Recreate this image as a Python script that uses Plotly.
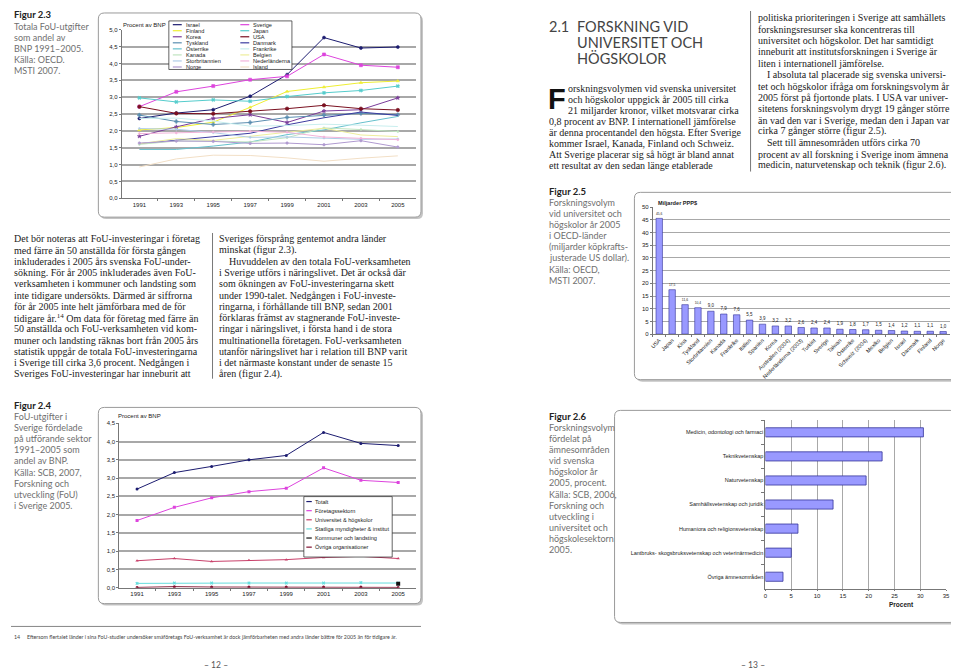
import plotly.graph_objects as go

W, H = 959, 669
def px(x): return x / W
def py(y): return 1 - y / H

# ---------------- Data: Figur 2.3 ----------------
years = ['1991', '1993', '1995', '1997', '1999', '2001', '2003', '2005']
israel = [2.37, 2.53, 2.63, 3.03, 3.67, 4.77, 4.46, 4.49]
sverige = [2.72, 3.16, 3.33, 3.52, 3.62, 4.27, 3.95, 3.89]
finland = [2.03, 2.10, 2.26, 2.70, 3.17, 3.30, 3.43, 3.48]
japan = [2.98, 2.86, 2.92, 2.88, 3.02, 3.13, 3.20, 3.33]
korea = [1.84, 2.12, 2.37, 2.48, 2.25, 2.59, 2.63, 2.98]
usa = [2.72, 2.52, 2.51, 2.58, 2.66, 2.76, 2.66, 2.62]
tyskland = [2.47, 2.28, 2.19, 2.25, 2.40, 2.47, 2.52, 2.48]
danmark = [1.62, 1.72, 1.83, 1.93, 2.18, 2.39, 2.56, 2.46]
osterrike = [1.45, 1.45, 1.55, 1.67, 1.89, 2.03, 2.24, 2.43]
frankrike = [2.37, 2.38, 2.29, 2.14, 2.16, 2.20, 2.17, 2.13]
kanada = [1.60, 1.70, 1.70, 1.67, 1.80, 2.09, 2.04, 1.98]
belgien = [1.62, 1.77, 1.72, 1.83, 1.96, 2.08, 1.88, 1.83]
storbritannien = [2.07, 2.05, 1.95, 1.81, 1.82, 1.79, 1.75, 1.76]
nederlanderna = [1.92, 1.94, 1.97, 1.99, 1.96, 1.82, 1.78, 1.74]
norge = [1.64, 1.70, 1.69, 1.63, 1.64, 1.59, 1.71, 1.52]
island = [0.93, 1.17, 1.28, 1.27, 1.20, 1.10, 1.19, 1.26]

# ---------------- Data: Figur 2.5 ----------------
countries25 = ['USA', 'Japan', 'Kina', 'Tyskland', 'Storbritannien', 'Kanada', 'Frankrike',
               'Italien', 'Spanien', 'Korea', 'Australien (2004)', 'Nederländerna (2003)',
               'Turkiet', 'Sverige', 'Taiwan', 'Österrike', 'Schweiz (2004)', 'Mexiko',
               'Belgien', 'Israel', 'Danmark', 'Finland', 'Norge']
volym25 = [45.6, 17.5, 11.6, 10.4, 9.0, 7.9, 7.6, 5.5, 3.9, 3.2, 3.2, 2.6,
           2.4, 2.4, 1.9, 1.8, 1.7, 1.5, 1.4, 1.2, 1.1, 1.1, 1.0]

# ---------------- Data: Figur 2.4 ----------------
totalt = [2.70, 3.15, 3.32, 3.50, 3.62, 4.25, 3.95, 3.89]
foretag = [1.84, 2.20, 2.46, 2.63, 2.72, 3.28, 2.94, 2.88]
univ = [0.74, 0.80, 0.72, 0.75, 0.77, 0.83, 0.86, 0.80]
statliga = [0.12, 0.13, 0.13, 0.13, 0.13, 0.13, 0.14, 0.13]
kommuner = [None, None, None, None, None, None, None, 0.11]
ovriga = [0.01, 0.03, 0.02, 0.02, 0.02, 0.02, 0.02, 0.01]

# ---------------- Data: Figur 2.6 ----------------
omraden = ['Medicin, odontologi och farmaci', 'Teknikvetenskap', 'Naturvetenskap',
           'Samhällsvetenskap och juridik', 'Humaniora och religionsvetenskap',
           'Lantbruks- skogsbruksvetenskap och veterinärmedicin', 'Övriga ämnesområden']
procent26 = [30.6, 22.6, 19.5, 13.1, 6.3, 5.0, 3.4]

fig = go.Figure()

# ---- Figur 2.3 traces ----
s23 = [
    ('Israel', israel, '#1c1c70', 'circle', 3),
    ('Sverige', sverige, '#dd44dd', 'square', 3),
    ('Finland', finland, '#eeee33', 'triangle-up', 3),
    ('Japan', japan, '#55cccc', 'x', 3),
    ('Korea', korea, '#7a3c9a', 'star', 3),
    ('USA', usa, '#7a1020', 'circle', 3.5),
    ('Tyskland', tyskland, '#5a8eb0', 'cross', 3),
    ('Danmark', danmark, '#3c3ca0', None, 0),
    ('Österrike', osterrike, '#66c0cc', None, 0),
    ('Frankrike', frankrike, '#c8eeee', None, 0),
    ('Kanada', kanada, '#c0e4c0', 'circle', 2),
    ('Belgien', belgien, '#eeee9c', None, 0),
    ('Storbritannien', storbritannien, '#b0cce8', 'circle', 2),
    ('Nederländerna', nederlanderna, '#f2b4da', 'circle', 2),
    ('Norge', norge, '#b09ad0', 'circle', 2.5),
    ('Island', island, '#f2dfc6', None, 0),
]
colors23 = {}
for name, vals, col, sym, ms in s23:
    colors23[name] = col
    mode = 'lines+markers' if sym else 'lines'
    fig.add_trace(go.Scatter(x=years, y=vals, name=name, mode=mode,
                             line=dict(color=col, width=1),
                             marker=dict(symbol=sym or 'circle', size=ms, color=col,
                                         line=dict(width=0.6, color=col)),
                             xaxis='x', yaxis='y', showlegend=False))

# ---- Figur 2.5 bars ----
fig.add_trace(go.Bar(x=countries25, y=volym25, xaxis='x2', yaxis='y2', width=0.5,
                     marker=dict(color='#9999ff', line=dict(color='#333399', width=0.6)),
                     text=[f'{v:.1f}'.replace('.', ',') for v in volym25],
                     textposition='outside', textfont=dict(size=5, family='Liberation Sans', color='#222'),
                     cliponaxis=False, showlegend=False))

# ---- Figur 2.4 traces ----
s24 = [
    ('Totalt', totalt, '#1c1c70', 'circle', 3),
    ('Företagssektorn', foretag, '#dd44dd', 'square', 3),
    ('Universitet & högskolor', univ, '#c8406a', 'triangle-up', 3),
    ('Statliga myndigheter & institut', statliga, '#66dddd', 'x', 3),
    ('Kommuner och landsting', kommuner, '#111111', 'square', 4),
    ('Övriga organisationer', ovriga, '#801030', 'circle', 3),
]
for name, vals, col, sym, ms in s24:
    fig.add_trace(go.Scatter(x=years, y=vals, name=name, mode='lines+markers',
                             line=dict(color=col, width=1),
                             marker=dict(symbol=sym, size=ms, color=col),
                             xaxis='x3', yaxis='y3', showlegend=False))

# ---- Figur 2.6 bars ----
fig.add_trace(go.Bar(x=procent26, y=omraden, orientation='h', xaxis='x4', yaxis='y4', width=0.38,
                     marker=dict(color='#9999ff', line=dict(color='#333399', width=0.8)),
                     showlegend=False))

# ---------------- Shapes ----------------
shapes = []
def rbox(x0, y0, x1, y1, r=6, fill='white', line='#9a9a9a', lw=1, layer='below'):
    rx, ry = r, r
    pts = [('M', x0 + rx, y0), ('L', x1 - rx, y0), ('Q', x1, y0, x1, y0 + ry), ('L', x1, y1 - ry),
           ('Q', x1, y1, x1 - rx, y1), ('L', x0 + rx, y1), ('Q', x0, y1, x0, y1 - ry),
           ('L', x0, y0 + ry), ('Q', x0, y0, x0 + rx, y0)]
    d = ''
    for p in pts:
        cmd = p[0]
        coords = p[1:]
        seg = ' '.join(f'{px(coords[i]):.5f},{py(coords[i+1]):.5f}' for i in range(0, len(coords), 2))
        d += f'{cmd} {seg} '
    d += 'Z'
    shapes.append(dict(type='path', path=d, xref='paper', yref='paper', fillcolor=fill,
                       line=dict(color=line, width=lw), layer=layer))

for (x0, y0, x1, y1) in [(88, 2, 413, 208), (628, 183, 953, 372), (88, 400, 413, 598), (608, 403, 952, 617)]:
    rbox(x0 + 2, y0 + 2, x1 + 2, y1 + 2, fill='#c4c4c4', line='rgba(0,0,0,0)', lw=0)
    rbox(x0, y0, x1, y1)

def hline(x0, x1, y, color='#444', w=0.8, layer='above'):
    shapes.append(dict(type='line', xref='paper', yref='paper', x0=px(x0), x1=px(x1), y0=py(y), y1=py(y),
                       line=dict(color=color, width=w), layer=layer))
def vline(x, y0, y1, color='#444', w=0.8):
    shapes.append(dict(type='line', xref='paper', yref='paper', x0=px(x), x1=px(x), y0=py(y0), y1=py(y1),
                       line=dict(color=color, width=w)))
def rect(x0, y0, x1, y1, fill='white', line='#222', w=0.7):
    shapes.append(dict(type='rect', xref='paper', yref='paper', x0=px(x0), x1=px(x1), y0=py(y0), y1=py(y1),
                       fillcolor=fill, line=dict(color=line, width=w), layer='above'))

vline(745, 0, 162, '#555', 0.8)
vline(203, 224, 371, '#555', 0.8)
hline(0, 413, 621, '#666', 0.8)

annotations = []
def txt(x, y, s, size=10, family='Liberation Serif', color='#222', xanchor='left', yanchor='middle'):
    annotations.append(dict(x=px(x), y=py(y), xref='paper', yref='paper', text=s, showarrow=False,
                            xanchor=xanchor, yanchor=yanchor, align='left',
                            font=dict(size=size, family=family, color=color)))

# ---- Legend of Figur 2.3 (manual) ----
rect(159, 10, 283, 59)
left_col = ['Israel', 'Finland', 'Korea', 'Tyskland', 'Österrike', 'Kanada', 'Storbritannien', 'Norge']
right_col = ['Sverige', 'Japan', 'USA', 'Danmark', 'Frankrike', 'Belgien', 'Nederländerna', 'Island']
for i, (a, b) in enumerate(zip(left_col, right_col)):
    yy = 13.8 + i * 6.1
    for nm, xs in ((a, 163), (b, 231)):
        hline(xs, xs + 9, yy, colors23[nm], 1.2)
        txt(xs + 11, yy, nm, size=5.6, family='Liberation Sans', color='#222')

# ---- Legend of Figur 2.4 (manual) ----
rect(295, 490, 384, 551)
for i, (name, vals, col, sym, ms) in enumerate(s24):
    yy = 495 + i * 9.2
    hline(297.5, 303, yy, col, 1.2)
    txt(304.5, yy, name, size=5.6, family='Liberation Sans', color='#222')

# ---- Chart inner texts ----
txt(111, 14, 'Procent av BNP', size=6, family='Liberation Sans', color='#222')
txt(650, 194, '<b>Miljarder PPP$</b>', size=5.6, family='Liberation Sans', color='#222')
txt(106, 409, 'Procent av BNP', size=6, family='Liberation Sans', color='#222')
txt(897, 599, '<b>Procent</b>', size=6.5, family='Liberation Sans', color='#222', xanchor='center')

# ---- Captions ----
cap_font = 'Lato'
def caption(x, y0, title, lines):
    txt(x, y0, f'<b>{title}</b>', size=9.5, family=cap_font, color='#222')
    for i, l in enumerate(lines):
        txt(x, y0 + 11.2 * (i + 1), l, size=9, family=cap_font, color='#707070')

caption(1, 4, 'Figur 2.3', ['Totala FoU-utgifter', 'som andel av', 'BNP 1991–2005.', 'Källa: OECD.', 'MSTI 2007.'])
caption(1, 398, 'Figur 2.4', ['FoU-utgifter i', 'Sverige fördelade', 'på utförande sektor', '1991–2005 som',
                              'andel av BNP.', 'Källa: SCB, 2007,', 'Forskning och', 'utveckling (FoU)', 'i Sverige 2005.'])
caption(540, 182, 'Figur 2.5', ['Forskningsvolym', 'vid universitet och', 'högskolor år 2005', 'i OECD-länder',
                                '(miljarder köpkrafts-', 'justerade US dollar).', 'Källa: OECD,', 'MSTI 2007.'])
caption(540, 409, 'Figur 2.6', ['Forskningsvolym', 'fördelat på', 'ämnesområden', 'vid svenska', 'högskolor år',
                                '2005, procent.', 'Källa: SCB, 2006,', 'Forskning och', 'utveckling i',
                                'universitet och', 'högskolesektorn', '2005.'])

# ---- Heading ----
HF = 14.5
txt(540, 16, '2.1', size=HF, family='Lato', color='#444')
txt(568, 16, 'FORSKNING VID', size=HF, family='Lato', color='#444')
txt(568, 32, 'UNIVERSITET OCH', size=HF, family='Lato', color='#444')
txt(568, 48, 'HÖGSKOLOR', size=HF, family='Lato', color='#444')

# ---- Body text ----
LS = 11.35
txt(539, 88.5, '<b>F</b>', size=29, family='Liberation Sans Narrow, Liberation Sans', color='#111')
mid_lines = [
    (559, 'orskningsvolymen vid svenska universitet'),
    (559, 'och högskolor uppgick år 2005 till cirka'),
    (559, '21 miljarder kronor, vilket motsvarar cirka'),
    (540, '0,8 procent av BNP. I internationell jämförelse'),
    (540, 'är denna procentandel den högsta. Efter Sverige'),
    (540, 'kommer Israel, Kanada, Finland och Schweiz.'),
    (540, 'Att Sverige placerar sig så högt är bland annat'),
    (540, 'ett resultat av den sedan länge etablerade'),
]
for i, (x, l) in enumerate(mid_lines):
    txt(x, 78 + i * 11.15, l)

right_lines = [
    (750, 'politiska prioriteringen i Sverige att samhällets'),
    (750, 'forskningsresurser ska koncentreras till'),
    (750, 'universitet och högskolor. Det har samtidigt'),
    (750, 'inneburit att institutsforskningen i Sverige är'),
    (750, 'liten i internationell jämförelse.'),
    (760, 'I absoluta tal placerade sig svenska universi-'),
    (750, 'tet och högskolor ifråga om forskningsvolym år'),
    (750, '2005 först på fjortonde plats. I USA var univer-'),
    (750, 'sitetens forskningsvolym drygt 19 gånger större'),
    (750, 'än vad den var i Sverige, medan den i Japan var'),
    (750, 'cirka 7 gånger större (figur 2.5).'),
    (760, 'Sett till ämnesområden utförs cirka 70'),
    (750, 'procent av all forskning i Sverige inom ämnena'),
    (750, 'medicin, naturvetenskap och teknik (figur 2.6).'),
]
for i, (x, l) in enumerate(right_lines):
    txt(x, 7 + i * 11.45, l)

left_lines = [
    'Det bör noteras att FoU-investeringar i företag',
    'med färre än 50 anställda för första gången',
    'inkluderades i 2005 års svenska FoU-under-',
    'sökning. För år 2005 inkluderades även FoU-',
    'verksamheten i kommuner och landsting som',
    'inte tidigare undersökts. Därmed är siffrorna',
    'för år 2005 inte helt jämförbara med de för',
    'tidigare år.<sup>14</sup> Om data för företag med färre än',
    '50 anställda och FoU-verksamheten vid kom-',
    'muner och landsting räknas bort från 2005 års',
    'statistik uppgår de totala FoU-investeringarna',
    'i Sverige till cirka 3,6 procent. Nedgången i',
    'Sveriges FoU-investeringar har inneburit att',
]
for i, l in enumerate(left_lines):
    txt(1, 230 + i * LS, l)

center_lines = [
    (208, 'Sveriges försprång gentemot andra länder'),
    (208, 'minskat (figur 2.3).'),
    (218, 'Huvuddelen av den totala FoU-verksamheten'),
    (208, 'i Sverige utförs i näringslivet. Det är också där'),
    (208, 'som ökningen av FoU-investeringarna skett'),
    (208, 'under 1990-talet. Nedgången i FoU-investe-'),
    (208, 'ringarna, i förhållande till BNP, sedan 2001'),
    (208, 'förklaras främst av stagnerande FoU-investe-'),
    (208, 'ringar i näringslivet, i första hand i de stora'),
    (208, 'multinationella företagen. FoU-verksamheten'),
    (208, 'utanför näringslivet har i relation till BNP varit'),
    (208, 'i det närmaste konstant under de senaste 15'),
    (208, 'åren (figur 2.4).'),
]
for i, (x, l) in enumerate(center_lines):
    txt(x, 230 + i * LS, l)

# ---- Footnote & page numbers ----
txt(1, 632, '14', size=5.3, family='Lato', color='#444')
txt(14, 632, 'Eftersom flertalet länder i sina FoU-studier undersöker småföretags FoU-verksamhet är dock '
             'jämförbarheten med andra länder bättre för 2005 än för tidigare år.', size=5.3, family='Lato', color='#444')
txt(207, 660, '– 12 –', size=8.5, family='Lato', color='#555', xanchor='center')
txt(747, 660, '– 13 –', size=8.5, family='Lato', color='#555', xanchor='center')

tick_font = dict(size=6, family='Liberation Sans', color='#222')
fig.update_layout(
    width=W, height=H, margin=dict(l=0, r=0, t=0, b=0),
    paper_bgcolor='white', plot_bgcolor='rgba(0,0,0,0)',
    separators=',.', showlegend=False,
    shapes=shapes, annotations=annotations,
    xaxis=dict(domain=[px(111.5), px(407.5)], anchor='y', type='category', tickfont=tick_font,
               showgrid=False, showline=True, linecolor='#777', ticks='outside', ticklen=2,
               tickcolor='#777', tickson='boundaries'),
    yaxis=dict(domain=[py(189), py(19)], anchor='x', range=[0, 5], dtick=0.5, tickformat='.1f',
               gridcolor='#a8a8a8', gridwidth=1.6, showline=True, linecolor='#777', ticks='outside',
               ticklen=2, tickcolor='#777', tickfont=tick_font, zeroline=False),
    xaxis2=dict(domain=[px(646.5), px(945.5)], anchor='y2', type='category', tickangle=-45,
                tickfont=dict(size=5.5, family='Liberation Sans', color='#222'), showgrid=False,
                showline=True, linecolor='#777', ticks='outside', ticklen=2, tickcolor='#777',
                tickson='boundaries'),
    yaxis2=dict(domain=[py(326), py(198)], anchor='x2', range=[0, 50], dtick=5, gridcolor='#a8a8a8',
                gridwidth=1, showline=True, linecolor='#777', ticks='outside', ticklen=2, tickcolor='#777',
                tickfont=tick_font, zeroline=False),
    xaxis3=dict(domain=[px(109), px(408)], anchor='y3', type='category', tickfont=tick_font,
                showgrid=False, showline=True, linecolor='#777', ticks='outside', ticklen=2,
                tickcolor='#777', tickson='boundaries'),
    yaxis3=dict(domain=[py(582), py(416)], anchor='x3', range=[0, 4.5], dtick=0.5, tickformat='.1f',
                gridcolor='#a8a8a8', gridwidth=1.6, showline=True, linecolor='#777', ticks='outside',
                ticklen=2, tickcolor='#777', tickfont=tick_font, zeroline=False),
    xaxis4=dict(domain=[px(760), px(942)], anchor='y4', range=[0, 35], dtick=5, gridcolor='#a8a8a8',
                gridwidth=1, showline=True, linecolor='#777', ticks='outside', ticklen=1, tickcolor='#777',
                tickfont=tick_font, zeroline=False),
    yaxis4=dict(domain=[py(583), py(413)], anchor='x4', type='category', autorange='reversed',
                tickfont=dict(size=5.5, family='Liberation Sans', color='#222'), showgrid=False,
                showline=True, linecolor='#777', ticks='outside', ticklen=3, tickcolor='#777',
                tickson='boundaries'),
)

fig.write_html('out.html')
